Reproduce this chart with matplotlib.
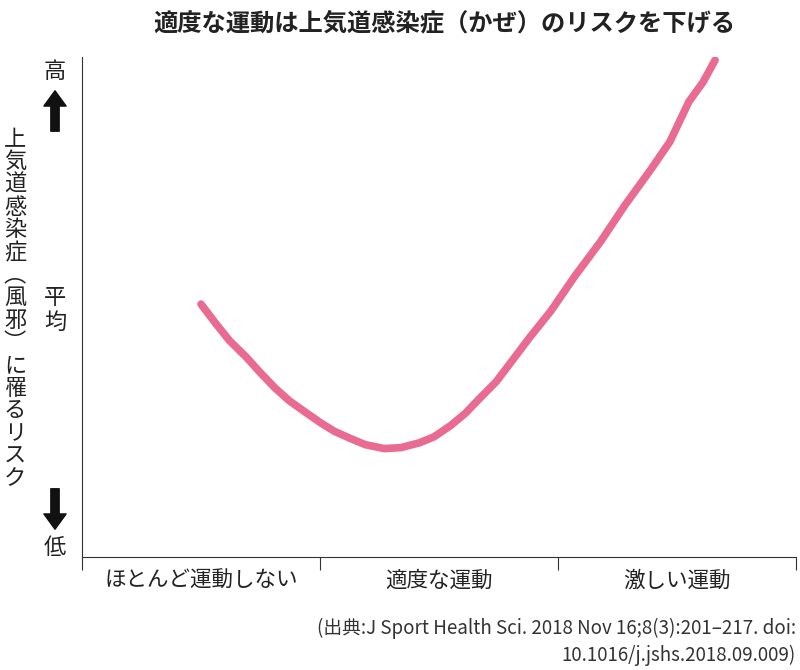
import matplotlib.pyplot as plt

plt.rcParams['font.family'] = ['Noto Sans CJK JP', 'DejaVu Sans']

categories = ['ほとんど運動しない', '適度な運動', '激しい運動']
# curve (x: category units 0..3, y: risk 0..10)
risk_x = [0.50, 0.56, 0.62, 0.69, 0.75, 0.81, 0.87, 0.94, 1.00, 1.06, 1.13, 1.19, 1.27, 1.34,
          1.42, 1.48, 1.55, 1.61, 1.67, 1.74, 1.80, 1.88, 1.97, 2.07, 2.18, 2.28, 2.39, 2.47, 2.55, 2.61, 2.66]
risk_y = [5.11, 4.73, 4.37, 4.04, 3.72, 3.42, 3.16, 2.92, 2.72, 2.54, 2.39, 2.27, 2.19, 2.21,
          2.31, 2.43, 2.66, 2.90, 3.20, 3.54, 3.92, 4.43, 4.97, 5.67, 6.38, 7.10, 7.83, 8.39, 9.20, 9.60, 10.04]

fig = plt.figure(figsize=(8, 6.7), dpi=100)
ax = fig.add_axes([0.1025, 0.1687, 0.8925, 0.746])
ax.plot(risk_x, risk_y, color='#e96b91', lw=5.5, solid_capstyle='round', solid_joinstyle='round')
ax.set_xlim(0, 3)
ax.set_ylim(0, 10.1)
for s in ['top', 'right']:
    ax.spines[s].set_visible(False)
for s in ['left', 'bottom']:
    ax.spines[s].set_color('#333333')
    ax.spines[s].set_linewidth(0.8)
ax.set_yticks([])
ax.set_xticks([0, 1, 2, 3])
ax.set_xticklabels([])
ax.tick_params(axis='x', length=9, color='#333333')
ax.set_xticks([0.5, 1.5, 2.5], minor=True)
ax.set_xticklabels(categories, minor=True, fontsize=15.5, color='#222222')
ax.tick_params(axis='x', which='minor', length=0, pad=9)

fig.text(0.556, 0.965, '適度な運動は上気道感染症（かぜ）のリスクを下げる', ha='center', va='center',
         fontsize=17.5, fontweight='bold', color='#222222')

# y axis labels
fig.text(55/800, 1-72/670, '高', ha='center', va='center', fontsize=16, color='#222222')
fig.text(55/800, 1-310/670, '平\n均', ha='center', va='center', fontsize=16, color='#222222', linespacing=1.1)
fig.text(55/800, 1-548/670, '低', ha='center', va='center', fontsize=16, color='#222222')
fig.text(15/800, 1-309/670, '\n'.join('上気道感染症︵風邪︶に罹るリスク'), ha='center', va='center',
         fontsize=16, color='#222222', linespacing=0.98)
arrow = dict(arrowstyle='simple,head_width=1.6,head_length=1.1,tail_width=0.6', color='#111111')
ax.annotate('', xy=(55/800, 1-88/670), xytext=(55/800, 1-134/670), xycoords='figure fraction', arrowprops=arrow)
ax.annotate('', xy=(55/800, 1-532/670), xytext=(55/800, 1-486/670), xycoords='figure fraction', arrowprops=arrow)

fig.text(796/800, 1-628/670, '(出典:J Sport Health Sci. 2018 Nov 16;8(3):201–217. doi:', ha='right', va='center',
         fontsize=13.5, color='#333333')
fig.text(796/800, 1-655/670, '10.1016/j.jshs.2018.09.009)', ha='right', va='center', fontsize=13.5, color='#333333')

fig.savefig('out.png')
